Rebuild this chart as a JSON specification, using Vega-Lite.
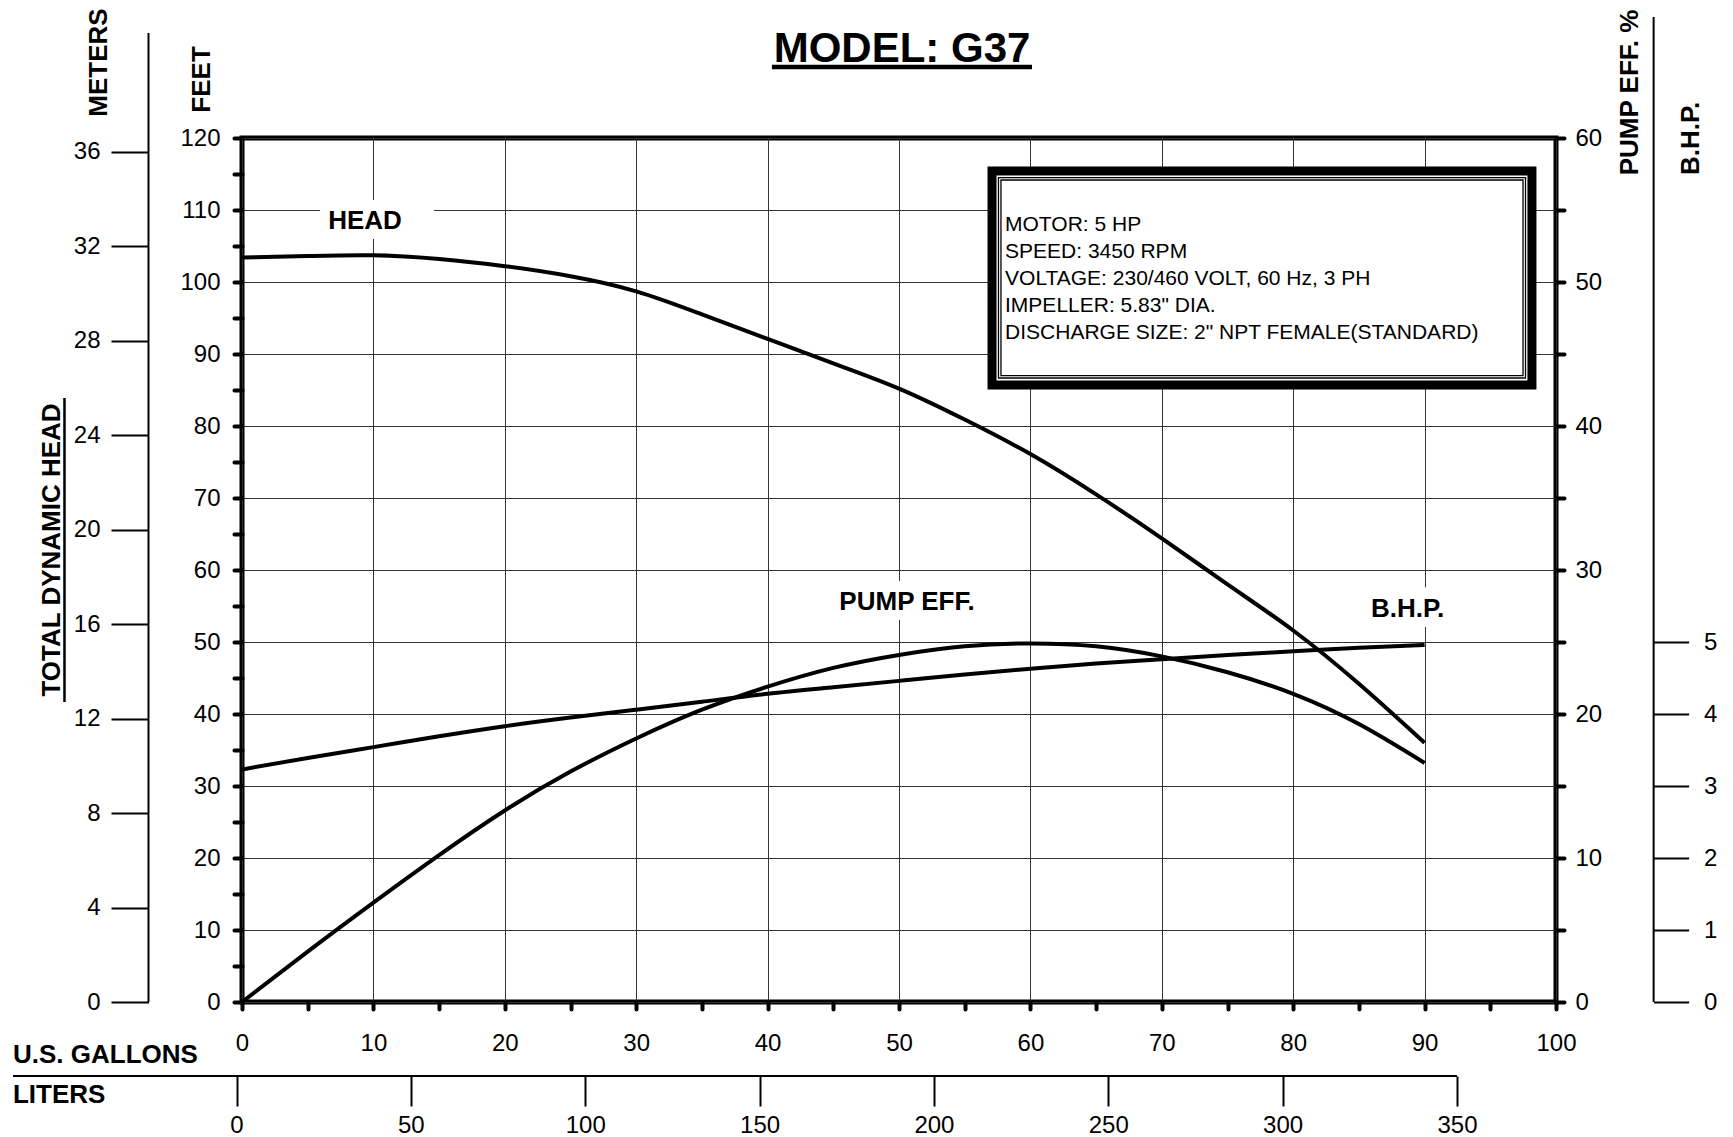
{
  "$schema": "https://vega.github.io/schema/vega-lite/v6.json",
  "width": 1314,
  "height": 864,
  "autosize": {"type": "none"},
  "padding": {"left": 242, "top": 138, "right": 177, "bottom": 135},
  "background": "white",
  "config": {
    "font": "Liberation Sans",
    "view": {"stroke": "black", "strokeWidth": 5},
    "text": {"font": "Liberation Sans", "color": "black"},
    "axis": {"labelFont": "Liberation Sans", "labelFontSize": 24, "labelColor": "black", "tickColor": "black", "labelFlush": false, "labelOverlap": false, "labelBound": false, "domain": false, "grid": false}
  },
  "data": {"values": [
    {"gpm": 0, "head": 103.4, "eff": 0, "bhp": 3.23},
    {"gpm": 5, "head": 103.6, "eff": 3.5, "bhp": 3.39},
    {"gpm": 10, "head": 103.7, "eff": 6.9, "bhp": 3.54},
    {"gpm": 15, "head": 103.2, "eff": 10.2, "bhp": 3.69},
    {"gpm": 20, "head": 102.2, "eff": 13.3, "bhp": 3.83},
    {"gpm": 25, "head": 100.8, "eff": 16.0, "bhp": 3.95},
    {"gpm": 30, "head": 98.7, "eff": 18.3, "bhp": 4.06},
    {"gpm": 35, "head": 95.5, "eff": 20.3, "bhp": 4.17},
    {"gpm": 40, "head": 92.1, "eff": 21.9, "bhp": 4.28},
    {"gpm": 45, "head": 88.7, "eff": 23.2, "bhp": 4.37},
    {"gpm": 50, "head": 85.2, "eff": 24.1, "bhp": 4.46},
    {"gpm": 55, "head": 80.9, "eff": 24.7, "bhp": 4.55},
    {"gpm": 60, "head": 76.1, "eff": 24.9, "bhp": 4.63},
    {"gpm": 65, "head": 70.5, "eff": 24.7, "bhp": 4.70},
    {"gpm": 70, "head": 64.4, "eff": 24.0, "bhp": 4.76},
    {"gpm": 75, "head": 58.0, "eff": 22.9, "bhp": 4.82},
    {"gpm": 80, "head": 51.6, "eff": 21.4, "bhp": 4.87},
    {"gpm": 85, "head": 44.2, "eff": 19.3, "bhp": 4.92},
    {"gpm": 90, "head": 36.0, "eff": 16.6, "bhp": 4.96}
  ]},
  "layer": [
    {
      "mark": {"type": "line", "color": "black", "strokeWidth": 4, "interpolate": "natural"},
      "encoding": {
        "x": {"field": "gpm", "type": "quantitative", "scale": {"domain": [0, 100], "nice": false, "zero": false},
          "axis": {"orient": "bottom", "title": null, "values": [0,5,10,15,20,25,30,35,40,45,50,55,60,65,70,75,80,85,90,95,100],
            "labelExpr": "datum.value % 10 === 0 ? datum.label : ''", "tickSize": 7, "tickWidth": 4, "tickCap": "round", "labelPadding": 22,
            "grid": true, "gridColor": "#333333", "gridWidth": 1,
            "gridOpacity": {"condition": {"test": "datum.value % 10 === 0", "value": 1}, "value": 0}}},
        "y": {"field": "head", "type": "quantitative", "scale": {"domain": [0, 120], "nice": false, "zero": false},
          "axis": {"orient": "left", "title": null, "values": [0,5,10,15,20,25,30,35,40,45,50,55,60,65,70,75,80,85,90,95,100,105,110,115,120],
            "labelExpr": "datum.value % 10 === 0 ? datum.label : ''", "tickSize": 8, "tickWidth": 4, "tickCap": "round", "labelPadding": 14,
            "grid": true, "gridColor": "#333333", "gridWidth": 1,
            "gridOpacity": {"condition": {"test": "datum.value % 10 === 0", "value": 1}, "value": 0}}}
      }
    },
    {
      "data": {"values": [{}]},
      "mark": {"type": "rect", "fill": "white"},
      "encoding": {"x": {"datum": 5.94, "type": "quantitative", "scale": {"domain": [0, 100], "nice": false}, "axis": null}, "x2": {"datum": 14.61},
        "y": {"datum": 105.97, "type": "quantitative", "scale": {"domain": [0, 120], "nice": false}, "axis": null}, "y2": {"datum": 111.39}}
    },
    {
      "data": {"values": [{}]},
      "mark": {"type": "rect", "fill": "white"},
      "encoding": {"x": {"datum": 44.44, "type": "quantitative", "scale": {"domain": [0, 100], "nice": false}, "axis": null}, "x2": {"datum": 56.77},
        "y": {"datum": 53.06, "type": "quantitative", "scale": {"domain": [0, 120], "nice": false}, "axis": null}, "y2": {"datum": 58.47}}
    },
    {
      "data": {"values": [{}]},
      "mark": {"type": "rect", "fill": "white"},
      "encoding": {"x": {"datum": 84.93, "type": "quantitative", "scale": {"domain": [0, 100], "nice": false}, "axis": null}, "x2": {"datum": 92.47},
        "y": {"datum": 52.1, "type": "quantitative", "scale": {"domain": [0, 120], "nice": false}, "axis": null}, "y2": {"datum": 57.6}}
    },
    {
      "data": {"values": [{}]},
      "mark": {"type": "rect", "fill": "white", "stroke": "black", "strokeWidth": 9},
      "encoding": {"x": {"datum": 57.08, "type": "quantitative", "scale": {"domain": [0, 100], "nice": false}, "axis": null}, "x2": {"datum": 98.17},
        "y": {"datum": 85.69, "type": "quantitative", "scale": {"domain": [0, 120], "nice": false}, "axis": null}, "y2": {"datum": 115.42}}
    },
    {
      "data": {"values": [{}]},
      "mark": {"type": "rect", "filled": false, "stroke": "black", "strokeWidth": 1.3},
      "encoding": {"x": {"datum": 57.57, "type": "quantitative", "scale": {"domain": [0, 100], "nice": false}, "axis": null}, "x2": {"datum": 97.68},
        "y": {"datum": 86.67, "type": "quantitative", "scale": {"domain": [0, 120], "nice": false}, "axis": null}, "y2": {"datum": 114.51}}
    },
    {
      "data": {"values": [{}]},
      "mark": {"type": "rect", "filled": false, "stroke": "black", "strokeWidth": 1.3},
      "encoding": {"x": {"datum": 57.76, "type": "quantitative", "scale": {"domain": [0, 100], "nice": false}, "axis": null}, "x2": {"datum": 97.49},
        "y": {"datum": 87.01, "type": "quantitative", "scale": {"domain": [0, 120], "nice": false}, "axis": null}, "y2": {"datum": 114.17}}
    },
    {
      "data": {"values": [{}]},
      "mark": {"type": "text", "text": ["MOTOR: 5 HP", "SPEED: 3450 RPM", "VOLTAGE: 230/460 VOLT, 60 Hz, 3 PH", "IMPELLER: 5.83\" DIA.", "DISCHARGE SIZE: 2\" NPT FEMALE(STANDARD)"],
        "font": "Liberation Sans", "fontSize": 21, "lineHeight": 27, "align": "left", "baseline": "top", "color": "black"},
      "encoding": {"x": {"datum": 58.07, "type": "quantitative", "scale": {"domain": [0, 100], "nice": false}, "axis": null},
        "y": {"datum": 109.44, "type": "quantitative", "scale": {"domain": [0, 120], "nice": false}, "axis": null}}
    },
    {
      "data": {"values": [{}]},
      "mark": {"type": "text", "text": "HEAD", "font": "Liberation Sans", "fontSize": 26, "fontWeight": "bold", "align": "center", "baseline": "alphabetic", "color": "black"},
      "encoding": {"x": {"datum": 9.36, "type": "quantitative", "scale": {"domain": [0, 100], "nice": false}, "axis": null},
        "y": {"datum": 107.36, "type": "quantitative", "scale": {"domain": [0, 120], "nice": false}, "axis": null}}
    },
    {
      "data": {"values": [{}]},
      "mark": {"type": "text", "text": "PUMP EFF.", "font": "Liberation Sans", "fontSize": 26, "fontWeight": "bold", "align": "center", "baseline": "alphabetic", "color": "black"},
      "encoding": {"x": {"datum": 50.61, "type": "quantitative", "scale": {"domain": [0, 100], "nice": false}, "axis": null},
        "y": {"datum": 54.44, "type": "quantitative", "scale": {"domain": [0, 120], "nice": false}, "axis": null}}
    },
    {
      "data": {"values": [{}]},
      "mark": {"type": "text", "text": "B.H.P.", "font": "Liberation Sans", "fontSize": 26, "fontWeight": "bold", "align": "center", "baseline": "alphabetic", "color": "black"},
      "encoding": {"x": {"datum": 88.70, "type": "quantitative", "scale": {"domain": [0, 100], "nice": false}, "axis": null},
        "y": {"datum": 53.47, "type": "quantitative", "scale": {"domain": [0, 120], "nice": false}, "axis": null}}
    },
    {
      "data": {"values": [{}]},
      "mark": {"type": "text", "text": "MODEL: G37", "font": "Liberation Sans", "fontSize": 42, "fontWeight": "bold", "align": "center", "baseline": "alphabetic", "color": "black"},
      "encoding": {"x": {"datum": 50.23, "type": "quantitative", "scale": {"domain": [0, 100], "nice": false}, "axis": null},
        "y": {"datum": 130.6, "type": "quantitative", "scale": {"domain": [0, 120], "nice": false}, "axis": null}}
    },
    {
      "data": {"values": [{}]},
      "mark": {"type": "rule", "color": "black", "strokeWidth": 4.5},
      "encoding": {"x": {"datum": 40.33, "type": "quantitative", "scale": {"domain": [0, 100], "nice": false}, "axis": null}, "x2": {"datum": 60.12},
        "y": {"datum": 129.86, "type": "quantitative", "scale": {"domain": [0, 120], "nice": false}, "axis": null}}
    },
    {
      "data": {"values": [{}]},
      "mark": {"type": "text", "text": "METERS", "angle": 270, "font": "Liberation Sans", "fontSize": 26, "fontWeight": "bold", "align": "center", "baseline": "alphabetic", "color": "black"},
      "encoding": {"x": {"datum": -10.27, "type": "quantitative", "scale": {"domain": [0, 100], "nice": false}, "axis": null},
        "y": {"datum": 130.49, "type": "quantitative", "scale": {"domain": [0, 120], "nice": false}, "axis": null}}
    },
    {
      "data": {"values": [{}]},
      "mark": {"type": "text", "text": "FEET", "angle": 270, "font": "Liberation Sans", "fontSize": 26, "fontWeight": "bold", "align": "center", "baseline": "alphabetic", "color": "black"},
      "encoding": {"x": {"datum": -2.435, "type": "quantitative", "scale": {"domain": [0, 100], "nice": false}, "axis": null},
        "y": {"datum": 128.13, "type": "quantitative", "scale": {"domain": [0, 120], "nice": false}, "axis": null}}
    },
    {
      "data": {"values": [{}]},
      "mark": {"type": "text", "text": "TOTAL DYNAMIC HEAD", "angle": 270, "font": "Liberation Sans", "fontSize": 26, "fontWeight": "bold", "align": "center", "baseline": "alphabetic", "color": "black"},
      "encoding": {"x": {"datum": -13.85, "type": "quantitative", "scale": {"domain": [0, 100], "nice": false}, "axis": null},
        "y": {"datum": 62.78, "type": "quantitative", "scale": {"domain": [0, 120], "nice": false}, "axis": null}}
    },
    {
      "data": {"values": [{}]},
      "mark": {"type": "rule", "color": "black", "strokeWidth": 2.5},
      "encoding": {"x": {"datum": -13.51, "type": "quantitative", "scale": {"domain": [0, 100], "nice": false}, "axis": null},
        "y": {"datum": 41.67, "type": "quantitative", "scale": {"domain": [0, 120], "nice": false}, "axis": null}, "y2": {"datum": 83.89}}
    },
    {
      "data": {"values": [{}]},
      "mark": {"type": "text", "text": "PUMP EFF. %", "angle": 270, "font": "Liberation Sans", "fontSize": 26, "fontWeight": "bold", "align": "center", "baseline": "alphabetic", "color": "black"},
      "encoding": {"x": {"datum": 106.24, "type": "quantitative", "scale": {"domain": [0, 100], "nice": false}, "axis": null},
        "y": {"datum": 126.32, "type": "quantitative", "scale": {"domain": [0, 120], "nice": false}, "axis": null}}
    },
    {
      "data": {"values": [{}]},
      "mark": {"type": "text", "text": "B.H.P.", "angle": 270, "font": "Liberation Sans", "fontSize": 26, "fontWeight": "bold", "align": "center", "baseline": "alphabetic", "color": "black"},
      "encoding": {"x": {"datum": 110.88, "type": "quantitative", "scale": {"domain": [0, 100], "nice": false}, "axis": null},
        "y": {"datum": 119.93, "type": "quantitative", "scale": {"domain": [0, 120], "nice": false}, "axis": null}}
    },
    {
      "data": {"values": [{}]},
      "mark": {"type": "text", "text": "U.S. GALLONS", "font": "Liberation Sans", "fontSize": 26, "fontWeight": "bold", "align": "left", "baseline": "alphabetic", "color": "black"},
      "encoding": {"x": {"datum": -17.43, "type": "quantitative", "scale": {"domain": [0, 100], "nice": false}, "axis": null},
        "y": {"datum": -8.47, "type": "quantitative", "scale": {"domain": [0, 120], "nice": false}, "axis": null}}
    },
    {
      "data": {"values": [{}]},
      "mark": {"type": "text", "text": "LITERS", "font": "Liberation Sans", "fontSize": 26, "fontWeight": "bold", "align": "left", "baseline": "alphabetic", "color": "black"},
      "encoding": {"x": {"datum": -17.43, "type": "quantitative", "scale": {"domain": [0, 100], "nice": false}, "axis": null},
        "y": {"datum": -14.03, "type": "quantitative", "scale": {"domain": [0, 120], "nice": false}, "axis": null}}
    },
    {
      "mark": {"type": "line", "color": "black", "strokeWidth": 4, "interpolate": "natural"},
      "encoding": {
        "x": {"field": "gpm", "type": "quantitative", "scale": {"domain": [0, 100], "nice": false, "zero": false}, "axis": null},
        "y": {"field": "eff", "type": "quantitative", "scale": {"domain": [0, 60], "nice": false, "zero": false},
          "axis": {"orient": "right", "title": null, "values": [0,5,10,15,20,25,30,35,40,45,50,55,60],
            "labelExpr": "datum.value % 10 === 0 ? datum.label : ''", "tickSize": 8, "tickWidth": 4, "tickCap": "round", "labelPadding": 11, "grid": false}}
      }
    },
    {
      "mark": {"type": "line", "color": "black", "strokeWidth": 4, "interpolate": "natural"},
      "encoding": {
        "x": {"field": "gpm", "type": "quantitative", "scale": {"domain": [0, 100], "nice": false, "zero": false}, "axis": null},
        "y": {"field": "bhp", "type": "quantitative", "scale": {"domain": [0, 12], "nice": false, "zero": false},
          "axis": {"orient": "right", "offset": 97.6, "title": null, "values": [0,1,2,3,4,5], "tickSize": 35, "tickWidth": 2, "labelPadding": 15, "grid": false}}
      }
    },
    {
      "data": {"values": [{}]},
      "mark": {"type": "rule", "color": "black", "strokeWidth": 2},
      "encoding": {"x": {"datum": 107.43, "type": "quantitative", "scale": {"domain": [0, 100], "nice": false}, "axis": null},
        "y": {"datum": 0, "type": "quantitative", "scale": {"domain": [0, 12], "nice": false}, "axis": null}, "y2": {"datum": 13.68}}
    },
    {
      "data": {"values": [{}]},
      "mark": {"type": "rule", "color": "black", "strokeWidth": 2},
      "encoding": {
        "x": {"datum": -7.116, "type": "quantitative", "scale": {"domain": [0, 100], "nice": false, "zero": false}, "axis": null},
        "y": {"datum": 0, "type": "quantitative", "scale": {"domain": [0, 36.576], "nice": false, "zero": false},
          "axis": {"orient": "left", "offset": 93.5, "title": null, "values": [0,4,8,12,16,20,24,28,32,36], "tickSize": 37.5, "tickWidth": 2, "labelPadding": 11, "grid": false}},
        "y2": {"datum": 41.02}
      }
    },
    {
      "data": {"values": [{}]},
      "mark": {"type": "rule", "color": "black", "strokeWidth": 2},
      "encoding": {
        "x": {"datum": -64.09, "type": "quantitative", "scale": {"domain": [0, 378.4], "range": [-5.5, 1314], "nice": false, "zero": false},
          "axis": {"orient": "bottom", "offset": 74, "title": null, "values": [0,50,100,150,200,250,300,350], "tickSize": 30, "tickWidth": 2, "labelPadding": 7, "grid": false}},
        "x2": {"datum": 350},
        "y": {"datum": -10.28, "type": "quantitative", "scale": {"domain": [0, 120], "nice": false, "zero": false}, "axis": null}
      }
    }
  ],
  "resolve": {"scale": {"x": "independent", "y": "independent"}, "axis": {"x": "independent", "y": "independent"}}
}
